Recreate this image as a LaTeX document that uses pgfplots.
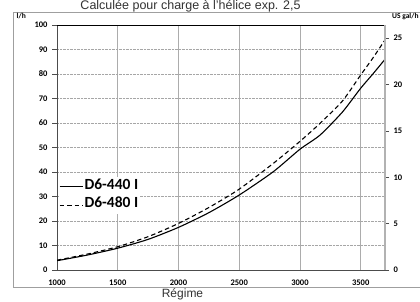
\documentclass[border=0pt]{standalone}
\usepackage{pgfplots}
\pgfplotsset{compat=1.18}
\usepackage{fontspec}
\setmainfont{Liberation Sans}
\newfontfamily\calfont{Carlito}
\begin{document}
\begin{tikzpicture}[x=1pt,y=1pt]
\path[use as bounding box] (0,0) rectangle (420,302);
\fill[white] (0,0) rectangle (420,302);
\draw[gray!75, line width=0.8pt] (13,15) -- (13,290) -- (430,290);
\draw[gray!75, line width=0.8pt] (13,15) -- (430,15);
\node[anchor=base, font=\fontsize{12.5}{14}\selectfont, text=black!80, inner sep=0pt] at (190.5,292.5) {Calculée pour charge à l'hélice exp. 2,5};
\node[anchor=base, font=\fontsize{12}{13}\selectfont, text=black!80, inner sep=0pt] at (182.5,4) {Régime};
\node[anchor=base west, font=\calfont\bfseries\fontsize{7.5}{8}\selectfont, inner sep=0pt] at (16.5,283) {l/h};
\node[anchor=base west, font=\calfont\bfseries\fontsize{7.5}{8}\selectfont, inner sep=0pt] at (392,283) {US gal/h};
\begin{axis}[
  at={(57pt,32pt)}, anchor=south west,
  scale only axis, width=328pt, height=245pt,
  xmin=1000, xmax=3700, ymin=0, ymax=100,
  xtick={1000,1500,2000,2500,3000,3500},
  ytick={0,10,...,100},
  xtick pos=bottom, ytick pos=left,
  tick align=outside, major tick length=5pt,
  xtick style={draw=none},
  ytick style={gray!60!black, line width=0.6pt},
  xticklabel style={yshift=-1pt},
  yticklabel style={xshift=-1pt},
  tick label style={font=\calfont\bfseries\fontsize{8.5}{9}\selectfont},
  /pgf/number format/assume math mode=true,
  /pgf/number format/set thousands separator={},
  axis line style={gray!60!black, line width=0.8pt},
  grid=major,
  x grid style={gray!65, line width=0.7pt},
  y grid style={gray!70, densely dotted, line width=0.7pt},
  legend style={at={(0.006,0.378)}, anchor=north west, draw=none, fill=white,
    inner sep=0pt, outer sep=0pt, row sep=0pt,
    font=\calfont\bfseries\fontsize{15.5}{16}\selectfont,
    nodes={inner sep=1.5pt, text height=10.5pt, text depth=5pt}},
  legend cell align=left,
  legend image code/.code={\draw[#1] (0pt,0pt) -- (23pt,0pt);},
]
\addplot[black, line width=1.1pt, smooth, tension=0.4] coordinates {
(1000,3.8) (1250,6.1) (1500,8.9) (1750,12.5) (2000,17.4) (2250,23.4) (2500,30.6) (2780,40.1) (3000,49.3) (3166,55.1) (3350,64.5) (3500,74.2) (3600,80) (3700,86)};
\addlegendentry{D6-440 I}
\addplot[black, line width=1.1pt, dash pattern=on 4.5pt off 3pt, smooth, tension=0.4] coordinates {
(1000,4.0) (1250,6.5) (1500,9.5) (1750,13.6) (2000,19.0) (2250,25.5) (2500,33.0) (2780,43.5) (3000,52.5) (3166,59.9) (3350,69) (3500,79.6) (3600,86.5) (3700,93.9)};
\addlegendentry{D6-480 I}
\draw[black, line width=0.9pt] (rel axis cs:0,1) -- (rel axis cs:1,1);
\end{axis}
\begin{axis}[
  at={(57pt,32pt)}, anchor=south west,
  scale only axis, width=328pt, height=245pt,
  xmin=1000, xmax=3700, ymin=0, ymax=26.42,
  axis x line=none, axis y line*=right,
  ytick={0,5,...,25},
  tick align=outside, major tick length=4pt,
  ytick style={gray!60!black, line width=0.6pt},
  yticklabel style={xshift=1pt},
  tick label style={font=\calfont\bfseries\fontsize{8.5}{9}\selectfont},
  /pgf/number format/assume math mode=true,
  axis line style={gray!60, line width=1.5pt},
]
\end{axis}
\end{tikzpicture}
\end{document}
